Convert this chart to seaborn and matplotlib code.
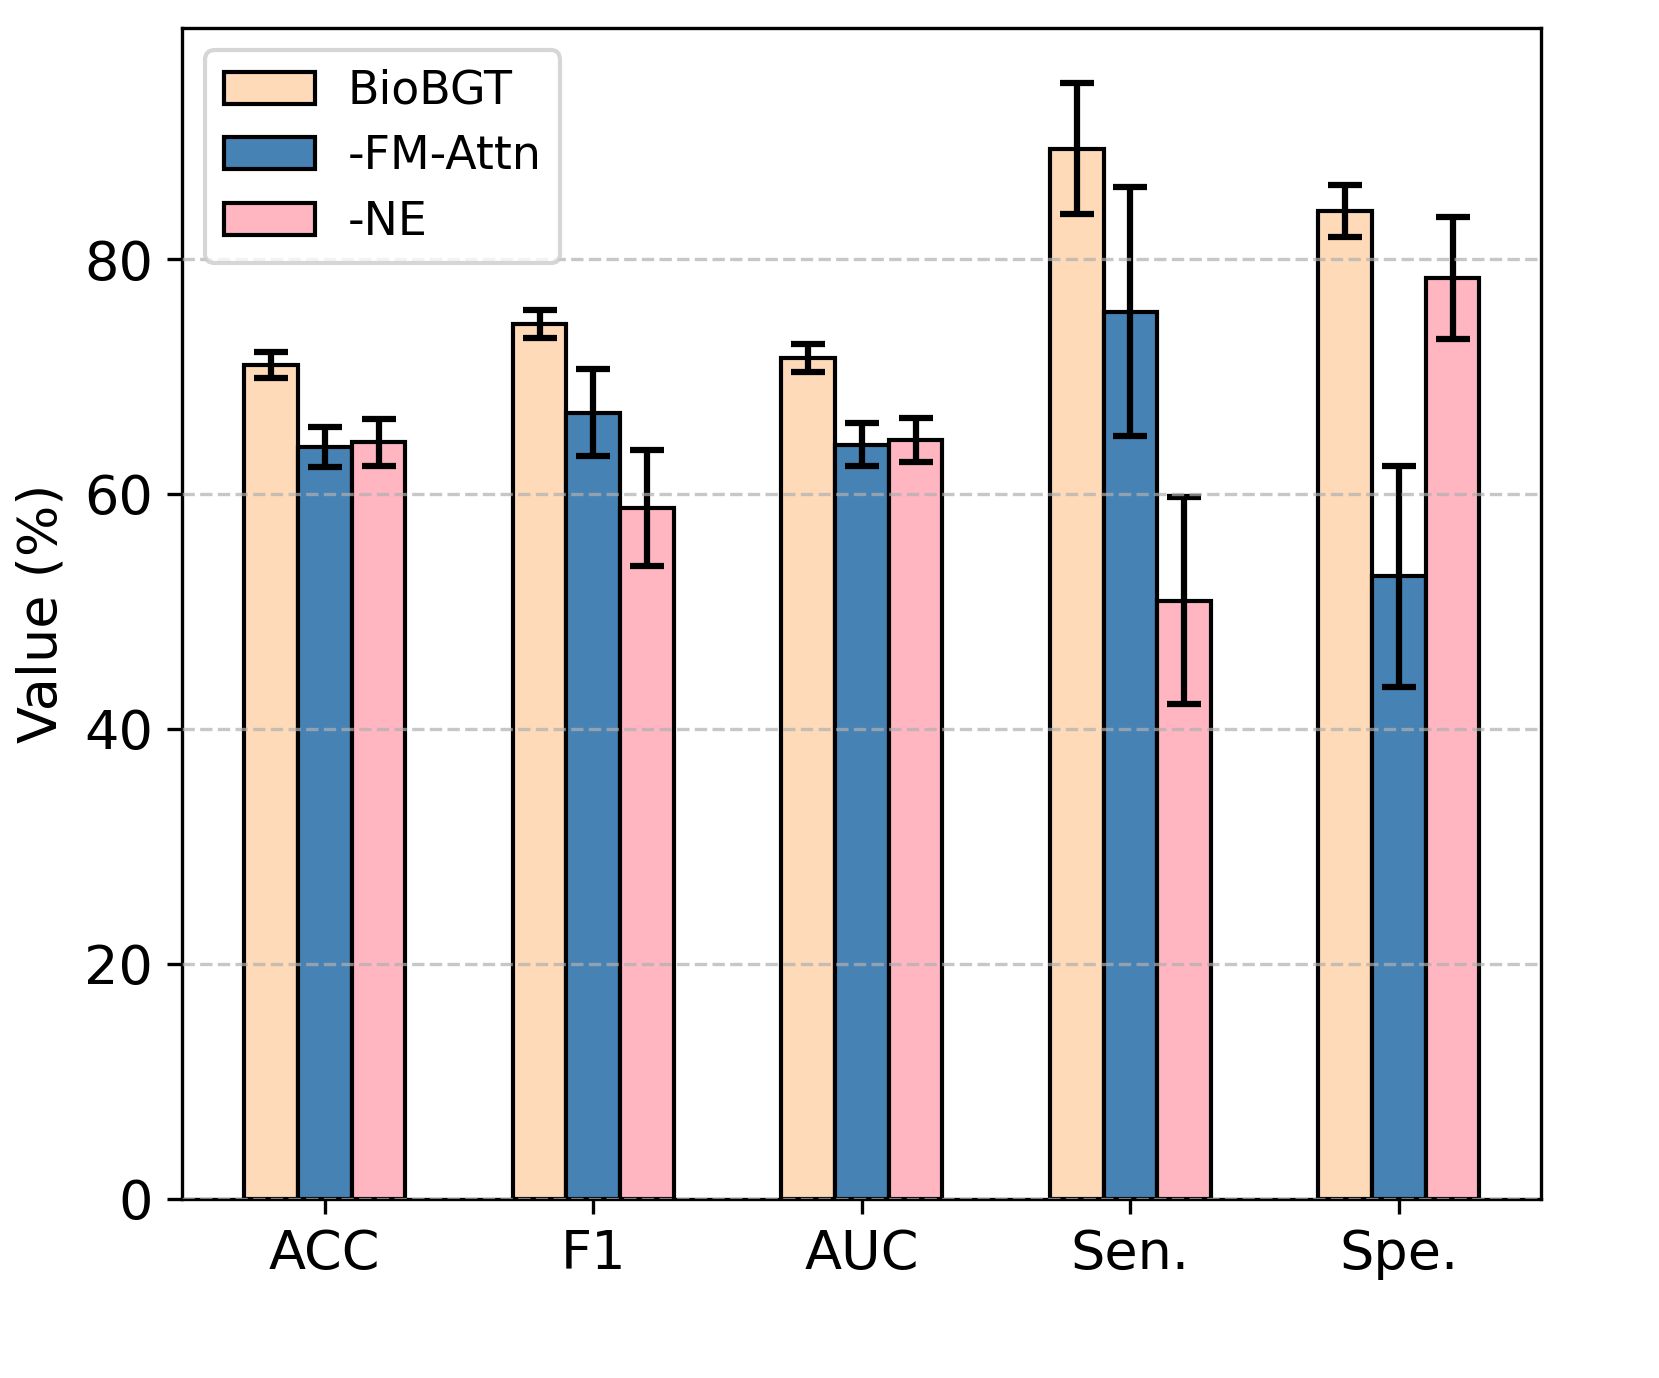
import numpy as np
import pandas as pd
import matplotlib
matplotlib.use("Agg")
import matplotlib.pyplot as plt
import seaborn as sns

# Values (%)
metrics = ["ACC", "F1", "AUC", "Sen.", "Spe."]
models = ["BioBGT", "-FM-Attn", "-NE"]

biobgt_mean = [71.0, 74.5, 71.6, 89.4, 84.1]
biobgt_std = [1.1, 1.2, 1.2, 5.6, 2.2]
fm_attn_mean = [64.0, 66.9, 64.2, 75.5, 53.0]
fm_attn_std = [1.7, 3.7, 1.8, 10.6, 9.4]
ne_mean = [64.4, 58.8, 64.6, 50.9, 78.4]
ne_std = [2.0, 4.9, 1.9, 8.8, 5.2]

colors = ["#FFDAB9", "#4682B4", "#FFB6C1"]

means = [biobgt_mean, fm_attn_mean, ne_mean]
stds = [biobgt_std, fm_attn_std, ne_std]

df = pd.DataFrame({
    "Metric": np.tile(metrics, len(models)),
    "Model": np.repeat(models, len(metrics)),
    "Value": np.concatenate(means),
    "Std": np.concatenate(stds),
})

fig = plt.figure(figsize=(1659 / 300, 1378 / 300), dpi=300)
ax = fig.add_axes([0.110, 0.130, 0.819, 0.850])

sns.barplot(data=df, x="Metric", y="Value", hue="Model", order=metrics,
            hue_order=models, palette=colors, saturation=1, width=0.6,
            errorbar=None, edgecolor="black", linewidth=1.0, ax=ax)

# error bars at the centre of each bar
for i, model in enumerate(models):
    cont = ax.containers[i]
    xs = [p.get_x() + p.get_width() / 2 for p in cont.patches]
    ax.errorbar(xs, means[i], yerr=stds[i], fmt="none", ecolor="black",
                elinewidth=1.5, capsize=4, capthick=1.5)

ax.set_ylim(0, 99.7)
ax.set_yticks([0, 20, 40, 60, 80])
ax.set_xlabel("")
ax.set_ylabel("Value (%)", fontsize=13)
ax.tick_params(axis="both", labelsize=13)
ax.yaxis.grid(True, linestyle="--", color="#b0b0b0", alpha=0.7)
ax.set_axisbelow(False)

ax.legend(loc="upper left", fontsize=11, title=None, handlelength=2.0,
          labelspacing=0.45, handletextpad=0.7)

fig.savefig("out.png", dpi=300)
